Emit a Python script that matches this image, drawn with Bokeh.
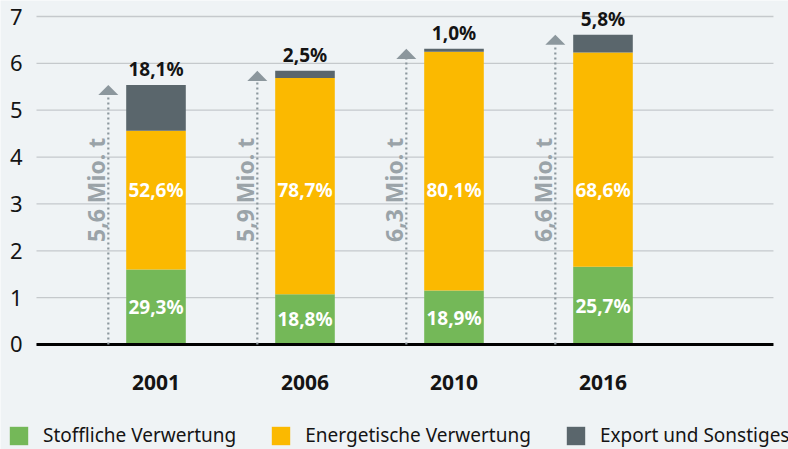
import math
from bokeh.plotting import figure
from bokeh.models import ColumnDataSource, Legend, LegendItem, Range1d
from bokeh.core.properties import value
from bokeh.embed import file_html
from bokeh.resources import INLINE

# ---- data (Mio. t) ----
years = ["2001", "2006", "2010", "2016"]
stoffliche = [1.60, 1.07, 1.15, 1.66]
energetische = [2.96, 4.62, 5.10, 4.57]
export_sonst = [0.98, 0.15, 0.06, 0.38]
total_labels = ["5,6 Mio. t", "5,9 Mio. t", "6,3 Mio. t", "6,6 Mio. t"]
pct_stoffliche = ["29,3%", "18,8%", "18,9%", "25,7%"]
pct_energetische = ["52,6%", "78,7%", "80,1%", "68,6%"]
pct_export = ["18,1%", "2,5%", "1,0%", "5,8%"]
series_names = ["Stoffliche Verwertung", "Energetische Verwertung", "Export und Sonstiges"]
y_ticks = [0, 1, 2, 3, 4, 5, 6, 7]
y_tick_labels = ["0", "1", "2", "3", "4", "5", "6", "7"]

# ---- style ----
FONT = "Noto Sans"
BG = "#eff3f5"
GREEN = "#74b858"
YELLOW = "#fbb900"
GREY = "#5a666c"
ARROW = "#8c979d"
LABEL_GREY = "#9aa3a8"
GRID = "#c5c9cc"
TXT = "#141414"
COLORS = [GREEN, YELLOW, GREY]
BAR_W = 0.4
ARROW_DX = -0.32
LABEL_DX = -0.40
TRI_HALF_W = 0.067
TRI_H = 0.215
# plotting area edges (in x data units) inside the full-size frame
PLOT_LEFT = -0.802
PLOT_RIGHT = 4.144

x = list(range(len(years)))
tops = [a + b + c for a, b, c in zip(stoffliche, energetische, export_sonst)]

src = ColumnDataSource(dict(x=x, stoff=stoffliche, energ=energetische, export=export_sonst))

p = figure(width=788, height=449, output_backend="svg", toolbar_location=None,
           x_range=Range1d(-1.0436, 4.2450), y_range=Range1d(-2.2409, 7.3415),
           x_axis_location=None, y_axis_location=None,
           min_border_left=0, min_border_right=0, min_border_top=0,
           min_border_bottom=0,
           background_fill_color=BG, border_fill_color=BG, outline_line_color=None)
p.grid.visible = False

# horizontal grid lines of the value axis
p.segment(x0=[PLOT_LEFT] * len(y_ticks), x1=[PLOT_RIGHT] * len(y_ticks),
          y0=y_ticks, y1=y_ticks, line_color=GRID, line_width=1.3)

# value axis labels
p.text(x=[PLOT_LEFT] * len(y_ticks), y=y_ticks, text=y_tick_labels, x_offset=-14,
       text_align="right", text_baseline="middle",
       text_font=value(FONT), text_font_size="22px", text_color=TXT)

rs = p.vbar_stack(["stoff", "energ", "export"], x="x", width=BAR_W, source=src,
                  fill_color=COLORS, line_color=None)

# baseline
p.segment(x0=[PLOT_LEFT], x1=[PLOT_RIGHT], y0=[0], y1=[0],
          line_color="black", line_width=3)

# arrows (dotted line + flat triangle)
ax = [xi + ARROW_DX for xi in x]
p.segment(x0=ax, y0=[0] * len(x), x1=ax, y1=[t - TRI_H for t in tops],
          line_color=ARROW, line_width=2.2, line_dash="2 3")
p.patches(xs=[[a - TRI_HALF_W, a, a + TRI_HALF_W] for a in ax],
          ys=[[t - TRI_H, t, t - TRI_H] for t in tops],
          fill_color=ARROW, line_color=None)

# rotated totals
p.text(x=[xi + LABEL_DX for xi in x], y=[3.3] * len(x), text=total_labels,
       angle=math.pi / 2, text_align="center", text_baseline="middle",
       text_font=value(FONT), text_font_style="bold", text_font_size="23px",
       text_color=LABEL_GREY)

# percentage labels
p.text(x=x, y=[s / 2 for s in stoffliche], text=pct_stoffliche,
       text_align="center", text_baseline="middle",
       text_font=value(FONT), text_font_style="bold", text_font_size="19px",
       text_color="white")
p.text(x=x, y=[3.3] * len(x), text=pct_energetische,
       text_align="center", text_baseline="middle",
       text_font=value(FONT), text_font_style="bold", text_font_size="19px",
       text_color="white")
p.text(x=x, y=tops, text=pct_export, y_offset=-3,
       text_align="center", text_baseline="bottom",
       text_font=value(FONT), text_font_style="bold", text_font_size="19px",
       text_color=TXT)

# category labels
p.text(x=x, y=[0] * len(x), text=years, y_offset=38,
       text_align="center", text_baseline="middle",
       text_font=value(FONT), text_font_style="bold", text_font_size="21px",
       text_color=TXT)

legend = Legend(items=[LegendItem(label=n, renderers=[r]) for n, r in zip(series_names, rs)],
                orientation="horizontal", location=(7, 1),
                glyph_width=23, glyph_height=23, label_standoff=13, spacing=33,
                padding=0, margin=0, background_fill_alpha=0, border_line_color=None,
                label_text_font=FONT, label_text_font_size="19px", label_text_color=TXT)
p.add_layout(legend, "center")

open("out.html", "w").write(file_html(p, INLINE))
